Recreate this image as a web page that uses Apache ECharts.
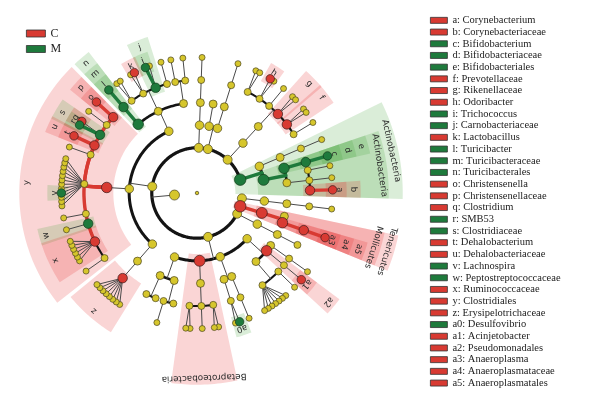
<!DOCTYPE html>
<html>
<head>
<meta charset="utf-8">
<script src="https://cdn.jsdelivr.net/npm/echarts@6/dist/echarts.min.js"></script>
<style>
html, body { margin: 0; padding: 0; background: #fff; }
#main { width: 589px; height: 396px; }
</style>
</head>
<body>
<div id="main"></div>
<script>
// leaves of the cladogram, clockwise from the east, phylum|class|order|family|genus
var leaves = [
    'P2|P2_c|P2_o|P2_f|P2_g',
    'Tenericutes|Mollicutes|Mo_o1',
    'Tenericutes|Mollicutes|Anaeroplasmatales|Anaeroplasmataceae|Anaeroplasma',
    'P4|P4_c|P4_o|P4_f',
    'Proteobacteria|Gammaproteobacteria|Ga_o1|Ga_f1|Ga_g1',
    'Proteobacteria|Gammaproteobacteria|Pseudomonadales|Moraxellaceae|Acinetobacter',
    'Proteobacteria|Gammaproteobacteria|Ga_o3|Ga_f3|Ga_g3',
    'Proteobacteria|Gammaproteobacteria|Ga_o3|Ga_f4|Ga_g4',
    'Proteobacteria|Gammaproteobacteria|Ga_o3|Ga_f4|Ga_g5',
    'Proteobacteria|Gammaproteobacteria|Ga_o3|Ga_f4|Ga_g6',
    'Proteobacteria|Gammaproteobacteria|Ga_o3|Ga_f4|Ga_g7',
    'Proteobacteria|Gammaproteobacteria|Ga_o3|Ga_f4|Ga_g8',
    'Proteobacteria|Gammaproteobacteria|Ga_o3|Ga_f4|Ga_g9',
    'Proteobacteria|Gammaproteobacteria|Ga_o3|Ga_f4|Ga_g10',
    'Proteobacteria|Deltaproteobacteria|De_o1|De_f1|De_g1',
    'Proteobacteria|Deltaproteobacteria|Desulfovibrionales|Desulfovibrionaceae|Desulfovibrio',
    'Proteobacteria|Deltaproteobacteria|Desulfovibrionales|Desulfovibrionaceae|De_g3',
    'Proteobacteria|Betaproteobacteria|Burkholderiales|Be_f1|Be_g1',
    'Proteobacteria|Betaproteobacteria|Burkholderiales|Be_f1|Be_g2',
    'Proteobacteria|Betaproteobacteria|Burkholderiales|Be_f2|Be_g3',
    'Proteobacteria|Betaproteobacteria|Burkholderiales|Be_f3|Be_g4',
    'Proteobacteria|Betaproteobacteria|Burkholderiales|Be_f3|Be_g5',
    'Proteobacteria|Alphaproteobacteria|Al_o1|Al_f1',
    'Proteobacteria|Alphaproteobacteria|Al_o1|Al_f2|Al_g2',
    'Proteobacteria|Alphaproteobacteria|Al_o2|Al_f3',
    'Proteobacteria|Alphaproteobacteria|Al_o2|Al_f4',
    'Firmicutes|Erysipelotrichia|Erysipelotrichales|Erysipelotrichaceae|Er_g1',
    'Firmicutes|Erysipelotrichia|Erysipelotrichales|Erysipelotrichaceae|Er_g2',
    'Firmicutes|Erysipelotrichia|Erysipelotrichales|Erysipelotrichaceae|Er_g3',
    'Firmicutes|Erysipelotrichia|Erysipelotrichales|Erysipelotrichaceae|Er_g4',
    'Firmicutes|Erysipelotrichia|Erysipelotrichales|Erysipelotrichaceae|Er_g5',
    'Firmicutes|Erysipelotrichia|Erysipelotrichales|Erysipelotrichaceae|Er_g6',
    'Firmicutes|Erysipelotrichia|Erysipelotrichales|Erysipelotrichaceae|Er_g7',
    'Firmicutes|Erysipelotrichia|Erysipelotrichales|Erysipelotrichaceae|Er_g8',
    'Firmicutes|Clostridia|Clostridiales|Cl_f1|Cl_g1',
    'Firmicutes|Clostridia|Clostridiales|Ruminococcaceae|Ru_g1',
    'Firmicutes|Clostridia|Clostridiales|Ruminococcaceae|Ru_g2',
    'Firmicutes|Clostridia|Clostridiales|Ruminococcaceae|Ru_g3',
    'Firmicutes|Clostridia|Clostridiales|Ruminococcaceae|Ru_g4',
    'Firmicutes|Clostridia|Clostridiales|Ruminococcaceae|Ru_g5',
    'Firmicutes|Clostridia|Clostridiales|Ruminococcaceae|Ru_g6',
    'Firmicutes|Clostridia|Clostridiales|Peptostreptococcaceae|Pe_g1',
    'Firmicutes|Clostridia|Clostridiales|Cl_f2|Cl_g2',
    'Firmicutes|Clostridia|Clostridiales|Lachnospiraceae|La_g1',
    'Firmicutes|Clostridia|Clostridiales|Lachnospiraceae|La_g2',
    'Firmicutes|Clostridia|Clostridiales|Lachnospiraceae|La_g3',
    'Firmicutes|Clostridia|Clostridiales|Lachnospiraceae|Lachnospira',
    'Firmicutes|Clostridia|Clostridiales|Lachnospiraceae|La_g5',
    'Firmicutes|Clostridia|Clostridiales|Lachnospiraceae|La_g6',
    'Firmicutes|Clostridia|Clostridiales|Lachnospiraceae|La_g7',
    'Firmicutes|Clostridia|Clostridiales|Lachnospiraceae|La_g8',
    'Firmicutes|Clostridia|Clostridiales|Lachnospiraceae|La_g9',
    'Firmicutes|Clostridia|Clostridiales|Lachnospiraceae|La_g10',
    'Firmicutes|Clostridia|Clostridiales|Lachnospiraceae|La_g11',
    'Firmicutes|Clostridia|Clostridiales|Lachnospiraceae|La_g12',
    'Firmicutes|Clostridia|Clostridiales|Cl_f3|Cl_g3',
    'Firmicutes|Clostridia|Clostridiales|Dehalobacteriaceae|Dehalobacterium',
    'Firmicutes|Clostridia|Clostridiales|Clostridiaceae|SMB53',
    'Firmicutes|Clostridia|Clostridiales|Clostridiaceae|Clostridium',
    'Firmicutes|Clostridia|Clostridiales|Cl_f4|Cl_g4',
    'Firmicutes|Clostridia|Clostridiales|Christensenellaceae|Christensenella',
    'Firmicutes|Bacilli|Turicibacterales|Turicibacteraceae|Turicibacter',
    'Firmicutes|Bacilli|Lactobacillales|Lb_f1|Lb_g1',
    'Firmicutes|Bacilli|Lactobacillales|Lb_f1|Lb_g2',
    'Firmicutes|Bacilli|Lactobacillales|Lactobacillaceae|Lb_g3',
    'Firmicutes|Bacilli|Lactobacillales|Lactobacillaceae|Lactobacillus',
    'Firmicutes|Bacilli|Lactobacillales|Carnobacteriaceae|Trichococcus',
    'Firmicutes|Bacilli|Lactobacillales|Carnobacteriaceae|Lb_g6',
    'Firmicutes|Bacilli|Lactobacillales|Lb_f4|Lb_g7',
    'Firmicutes|Bacilli|Ba_o3|Ba_f1|Ba_g1',
    'Firmicutes|Bacilli|Ba_o3|Ba_f2|Ba_g2',
    'PA|PA_c|PA_o|PA_f|PA_g',
    'PB|PB_c1|PB_o1',
    'PB|PB_c2|PB_o2|PB_f|PB_g',
    'Bacteroidetes|Bacteroidia|Bacteroidales|Bd_f1|Bd_g1',
    'Bacteroidetes|Bacteroidia|Bacteroidales|Bd_f1|Bd_g2',
    'Bacteroidetes|Bacteroidia|Bacteroidales|Porphyromonadaceae|Odoribacter',
    'Bacteroidetes|Bacteroidia|Bacteroidales|Porphyromonadaceae|Bd_g4',
    'Bacteroidetes|Bacteroidia|Bacteroidales|Bd_f3|Bd_g5',
    'Bacteroidetes|Bacteroidia|Bacteroidales|Rikenellaceae|Bd_g6',
    'Bacteroidetes|Bacteroidia|Bacteroidales|Rikenellaceae|Bd_g7',
    'Bacteroidetes|Bacteroidia|Bacteroidales|Prevotellaceae|Bd_g8',
    'Bacteroidetes|Bacteroidia|Bacteroidales|Prevotellaceae|Bd_g9',
    'Bacteroidetes|Bacteroidia|Bacteroidales|Bd_f6|Bd_g10',
    'Actinobacteria|Ac_c1|Ac_o1|Ac_f1|Ac_g1',
    'Actinobacteria|Actinobacteria|Bifidobacteriales|Bifidobacteriaceae|Bifidobacterium',
    'Actinobacteria|Actinobacteria|Actinomycetales|Ac_f2|Ac_g2',
    'Actinobacteria|Actinobacteria|Actinomycetales|Ac_f3|Ac_g3',
    'Actinobacteria|Actinobacteria|Actinomycetales|Corynebacteriaceae|Corynebacterium'
];

// lettered biomarkers (legend on the right)
var letterTags = ['a', 'b', 'c', 'd', 'e', 'f', 'g', 'h', 'i', 'j', 'k', 'l', 'm', 'n', 'o', 'p',
    'q', 'r', 's', 't', 'u', 'v', 'w', 'x', 'y', 'z', 'a0', 'a1', 'a2', 'a3', 'a4', 'a5'];
var letterNames = ['Corynebacterium', 'Corynebacteriaceae', 'Bifidobacterium', 'Bifidobacteriaceae',
    'Bifidobacteriales', 'Prevotellaceae', 'Rikenellaceae', 'Odoribacter', 'Trichococcus',
    'Carnobacteriaceae', 'Lactobacillus', 'Turicibacter', 'Turicibacteraceae', 'Turicibacterales',
    'Christensenella', 'Christensenellaceae', 'Clostridium', 'SMB53', 'Clostridiaceae',
    'Dehalobacterium', 'Dehalobacteriaceae', 'Lachnospira', 'Peptostreptococcaceae',
    'Ruminococcaceae', 'Clostridiales', 'Erysipelotrichaceae', 'Desulfovibrio', 'Acinjetobacter',
    'Pseudomonadales', 'Anaeroplasma', 'Anaeroplasmataceae', 'Anaeroplasmatales'];
var letterGroups = ['C', 'C', 'M', 'M', 'M', 'C', 'C', 'C', 'M', 'M', 'C', 'M', 'M', 'M', 'C', 'C',
    'C', 'M', 'M', 'C', 'C', 'M', 'M', 'C', 'C', 'C', 'M', 'C', 'C', 'C', 'C', 'C'];
var letterPaths = [
    'Actinobacteria|Actinobacteria|Actinomycetales|Corynebacteriaceae|Corynebacterium',
    'Actinobacteria|Actinobacteria|Actinomycetales|Corynebacteriaceae',
    'Actinobacteria|Actinobacteria|Bifidobacteriales|Bifidobacteriaceae|Bifidobacterium',
    'Actinobacteria|Actinobacteria|Bifidobacteriales|Bifidobacteriaceae',
    'Actinobacteria|Actinobacteria|Bifidobacteriales',
    'Bacteroidetes|Bacteroidia|Bacteroidales|Prevotellaceae',
    'Bacteroidetes|Bacteroidia|Bacteroidales|Rikenellaceae',
    'Bacteroidetes|Bacteroidia|Bacteroidales|Porphyromonadaceae|Odoribacter',
    'Firmicutes|Bacilli|Lactobacillales|Carnobacteriaceae|Trichococcus',
    'Firmicutes|Bacilli|Lactobacillales|Carnobacteriaceae',
    'Firmicutes|Bacilli|Lactobacillales|Lactobacillaceae|Lactobacillus',
    'Firmicutes|Bacilli|Turicibacterales|Turicibacteraceae|Turicibacter',
    'Firmicutes|Bacilli|Turicibacterales|Turicibacteraceae',
    'Firmicutes|Bacilli|Turicibacterales',
    'Firmicutes|Clostridia|Clostridiales|Christensenellaceae|Christensenella',
    'Firmicutes|Clostridia|Clostridiales|Christensenellaceae',
    'Firmicutes|Clostridia|Clostridiales|Clostridiaceae|Clostridium',
    'Firmicutes|Clostridia|Clostridiales|Clostridiaceae|SMB53',
    'Firmicutes|Clostridia|Clostridiales|Clostridiaceae',
    'Firmicutes|Clostridia|Clostridiales|Dehalobacteriaceae|Dehalobacterium',
    'Firmicutes|Clostridia|Clostridiales|Dehalobacteriaceae',
    'Firmicutes|Clostridia|Clostridiales|Lachnospiraceae|Lachnospira',
    'Firmicutes|Clostridia|Clostridiales|Peptostreptococcaceae',
    'Firmicutes|Clostridia|Clostridiales|Ruminococcaceae',
    'Firmicutes|Clostridia|Clostridiales',
    'Firmicutes|Erysipelotrichia|Erysipelotrichales|Erysipelotrichaceae',
    'Proteobacteria|Deltaproteobacteria|Desulfovibrionales|Desulfovibrionaceae|Desulfovibrio',
    'Proteobacteria|Gammaproteobacteria|Pseudomonadales|Moraxellaceae|Acinetobacter',
    'Proteobacteria|Gammaproteobacteria|Pseudomonadales',
    'Tenericutes|Mollicutes|Anaeroplasmatales|Anaeroplasmataceae|Anaeroplasma',
    'Tenericutes|Mollicutes|Anaeroplasmatales|Anaeroplasmataceae',
    'Tenericutes|Mollicutes|Anaeroplasmatales'
];

// biomarkers labelled with their full name
var namedPaths = ['Actinobacteria', 'Actinobacteria|Actinobacteria', 'Tenericutes',
    'Tenericutes|Mollicutes', 'Proteobacteria|Betaproteobacteria'];
var namedGroups = ['M', 'M', 'C', 'C', 'C'];

var groupNames = ['C', 'M'];
var groupColors = { C: '#d83a32', M: '#1e7a3c' };
var groupFills = { C: 'rgba(232, 45, 45, 0.2)', M: 'rgba(60, 160, 50, 0.19)' };
var plainColor = '#d6c62c';

// layout rules: angular gap between neighbouring leaves by number of shared ranks
var gapByShared = [8, 7.2, 4.2, 5.05, 1.8];
var firstLeafAngle = 6.8;
var wedgeMargin = 3;

// ---- build the tree ----
var nodes = {};
var root = { key: '', name: 'Bacteria', level: 1, children: [] };
nodes[''] = root;
leaves.forEach(function (path, li) {
    var parts = path.split('|');
    var parent = root;
    for (var d = 1; d <= parts.length; d++) {
        var key = parts.slice(0, d).join('|');
        var n = nodes[key];
        if (!n) {
            n = { key: key, name: parts[d - 1], level: d + 1, children: [], parent: parent };
            nodes[key] = n;
            parent.children.push(n);
        }
        parent = n;
    }
    parent.leafIndex = li;
});

letterPaths.forEach(function (p, i) { nodes[p].group = letterGroups[i]; });
namedPaths.forEach(function (p, i) { nodes[p].group = namedGroups[i]; });

function shared(a, b) {
    var x = a.split('|'), y = b.split('|'), s = 0;
    while (s < x.length && s < y.length && x[s] === y[s]) s++;
    return Math.min(s, 4);
}

var cum = [0];
for (var i = 1; i < leaves.length; i++) {
    cum.push(cum[i - 1] + gapByShared[shared(leaves[i - 1], leaves[i])]);
}
var total = cum[leaves.length - 1] + gapByShared[shared(leaves[leaves.length - 1], leaves[0])];
var leafAngles = cum.map(function (c) { return firstLeafAngle + c * 360 / total; });

function place(n) {
    if (!n.children.length) {
        n.angle = n.minA = n.maxA = leafAngles[n.leafIndex];
        return;
    }
    n.children.forEach(place);
    var first = n.children[0], last = n.children[n.children.length - 1];
    n.angle = (first.angle + last.angle) / 2;
    n.minA = first.minA;
    n.maxA = last.maxA;
}
place(root);

// ---- edges: [r1, a1, r2, a2, isArc, width, colour] ----
var arcWidth = { 2: 3.2, 3: 3, 4: 2.6, 5: 2.1 };
var edgeColors = ['#141414', '#4a4a4a', groupColors.C, groupColors.M];
var edgeData = [];
function addEdges(p) {
    var kids = p.children;
    if (!kids.length) return;
    var cl = p.level + 1;
    var arcMode = kids.length > 1 && p.level <= 4;
    if (arcMode) {
        edgeData.push([cl, kids[0].angle, cl, kids[kids.length - 1].angle, 1, arcWidth[cl], 0]);
        edgeData.push([p.level, p.angle, cl, p.angle, 0, 1, 1]);
    } else {
        kids.forEach(function (k) { edgeData.push([p.level, p.angle, cl, k.angle, 0, 1, 1]); });
    }
    kids.forEach(function (k) {
        if (p.group && p.group === k.group) {
            var c = p.group === 'C' ? 2 : 3;
            if (arcMode) {
                edgeData.push([p.level, p.angle, cl, p.angle, 0, 3.4, c]);
                edgeData.push([cl, p.angle, cl, k.angle, 1, 3.4, c]);
            } else {
                edgeData.push([p.level, p.angle, cl, k.angle, 0, 3.4, c]);
            }
        }
        addEdges(k);
    });
}
addEdges(root);

// ---- highlighted clades and their labels ----
function ringOuter(level) { return 6 + (7 - level) * 0.62; }
var wedgeData = [];
var labelData = [];
var labelTexts = [];
function addClade(path, group, text) {
    var n = nodes[path];
    wedgeData.push([n.level - 0.3, n.minA - wedgeMargin, ringOuter(n.level), n.maxA + wedgeMargin,
        groupNames.indexOf(group), n.level]);
    labelTexts.push(text);
    labelData.push([(ringOuter(n.level) + ringOuter(n.level + 1)) / 2, (n.minA + n.maxA) / 2,
        labelTexts.length - 1]);
}
namedPaths.forEach(function (p, i) { addClade(p, namedGroups[i], nodes[p].name); });
letterPaths.forEach(function (p, i) { addClade(p, letterGroups[i], letterTags[i]); });
wedgeData.sort(function (a, b) { return a[5] - b[5]; });

// ---- nodes ----
var nodeSize = { 1: 10, 2: 9, 3: 8.5, 4: 8, 5: 7, 6: 6 };
var nodeSets = { C: [], M: [], plain: [[0, 0, 3.5]] };
Object.keys(nodes).forEach(function (key) {
    var n = nodes[key];
    var size = nodeSize[n.level] + (n.group ? 2.5 : 0);
    (n.group ? nodeSets[n.group] : nodeSets.plain).push([n.level, n.angle, size]);
});

function arcPoints(api, r, a0, a1) {
    var steps = Math.max(2, Math.ceil(Math.abs(a1 - a0) / 1) + 1);
    var pts = [];
    for (var k = 0; k < steps; k++) {
        pts.push(api.coord([r, a0 + (a1 - a0) * k / (steps - 1)]).slice(0, 2));
    }
    return pts;
}

var series = [
    {
        type: 'custom',
        coordinateSystem: 'polar',
        silent: true,
        z: 1,
        data: wedgeData,
        renderItem: function (params, api) {
            var r0 = api.value(0), a0 = api.value(1), r1 = api.value(2), a1 = api.value(3);
            var pts = arcPoints(api, r1, a0, a1).concat(arcPoints(api, r0, a1, a0));
            return {
                type: 'polygon',
                shape: { points: pts },
                style: { fill: groupFills[groupNames[api.value(4)]] }
            };
        }
    },
    {
        type: 'custom',
        coordinateSystem: 'polar',
        silent: true,
        z: 2,
        data: edgeData,
        renderItem: function (params, api) {
            var pts;
            if (api.value(4) === 1) {
                pts = arcPoints(api, api.value(0), api.value(1), api.value(3));
            } else {
                pts = [api.coord([api.value(0), api.value(1)]).slice(0, 2),
                    api.coord([api.value(2), api.value(3)]).slice(0, 2)];
            }
            return {
                type: 'polyline',
                shape: { points: pts },
                style: { stroke: edgeColors[api.value(6)], lineWidth: api.value(5), fill: null, lineCap: 'round' }
            };
        }
    },
    {
        type: 'scatter',
        name: 'nodes',
        coordinateSystem: 'polar',
        silent: true,
        z: 3,
        data: nodeSets.plain,
        symbolSize: function (v) { return v[2]; },
        itemStyle: { color: plainColor, opacity: 1, borderColor: '#4a4520', borderWidth: 0.7 }
    },
    {
        type: 'scatter',
        name: 'C',
        coordinateSystem: 'polar',
        silent: true,
        z: 3,
        data: nodeSets.C,
        symbolSize: function (v) { return v[2]; },
        itemStyle: { color: groupColors.C, opacity: 1, borderColor: '#3a1a1a', borderWidth: 0.7 }
    },
    {
        type: 'scatter',
        name: 'M',
        coordinateSystem: 'polar',
        silent: true,
        z: 3,
        data: nodeSets.M,
        symbolSize: function (v) { return v[2]; },
        itemStyle: { color: groupColors.M, opacity: 1, borderColor: '#123a1a', borderWidth: 0.7 }
    },
    {
        type: 'custom',
        coordinateSystem: 'polar',
        silent: true,
        z: 4,
        data: labelData,
        renderItem: function (params, api) {
            var c = api.coord([0, 0]);
            var p = api.coord([api.value(0), api.value(1)]);
            var th = Math.atan2(p[1] - c[1], p[0] - c[0]);
            var text = labelTexts[api.value(2)];
            return {
                type: 'text',
                x: p[0],
                y: p[1],
                rotation: -(th + Math.PI / 2),
                style: {
                    text: text,
                    fill: '#2a2a2a',
                    fontSize: text.length > 2 ? 8.8 : 8.5,
                    fontFamily: 'DejaVu Sans',
                    align: 'center',
                    verticalAlign: 'middle'
                }
            };
        }
    }
];

var legendItems = letterTags.map(function (t, i) { return t + ': ' + letterNames[i]; });
legendItems.forEach(function (name, i) {
    series.push({
        type: 'scatter',
        coordinateSystem: 'polar',
        name: name,
        data: [],
        itemStyle: { color: groupColors[letterGroups[i]], opacity: 1 }
    });
});

var myChart = echarts.init(document.getElementById('main'));
var option = {
    animation: false,
    backgroundColor: '#ffffff',
    polar: { center: [197, 193], radius: 208 },
    radiusAxis: { type: 'value', min: 0, max: 9.2, show: false },
    angleAxis: { type: 'value', min: 0, max: 360, startAngle: 0, clockwise: true, show: false },
    legend: [
        {
            data: groupNames,
            orient: 'vertical',
            left: 26,
            top: 27,
            padding: 0,
            itemWidth: 19,
            itemHeight: 7,
            itemGap: 2.5,
            icon: 'rect',
            selectedMode: false,
            itemStyle: { borderColor: '#333', borderWidth: 0.8 },
            textStyle: { fontFamily: 'Liberation Serif', fontSize: 12, color: '#222', lineHeight: 13 }
        },
        {
            data: legendItems,
            orient: 'vertical',
            left: 430,
            top: 14.5,
            padding: 0,
            itemWidth: 17,
            itemHeight: 6,
            itemGap: 0,
            icon: 'rect',
            selectedMode: false,
            itemStyle: { borderColor: '#333', borderWidth: 0.8 },
            textStyle: { fontFamily: 'Liberation Serif', fontSize: 10.5, color: '#222', lineHeight: 11.7 }
        }
    ],
    series: series
};
myChart.setOption(option);
</script>
</body>
</html>
